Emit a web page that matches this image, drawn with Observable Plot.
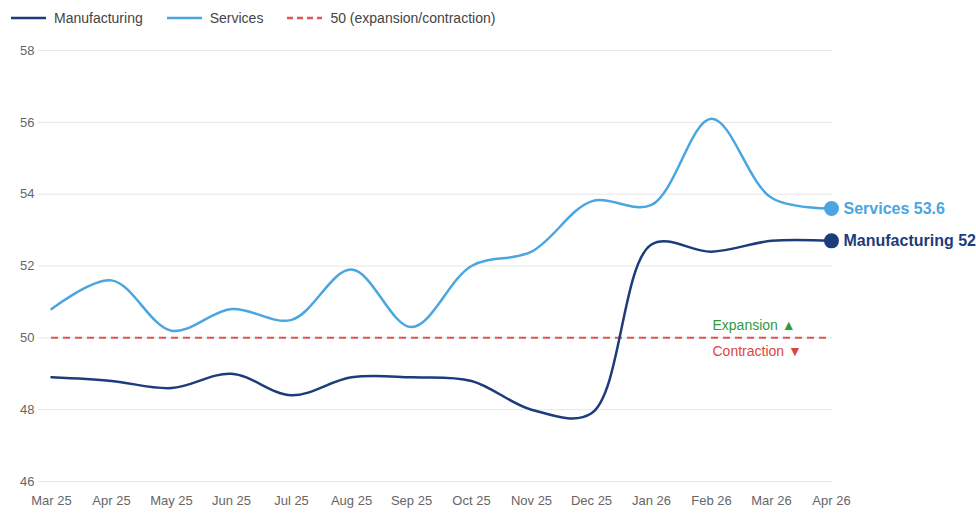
<!DOCTYPE html>
<html>
<head>
<meta charset="utf-8">
<script src="https://cdn.jsdelivr.net/npm/d3@7"></script>
<script src="https://cdn.jsdelivr.net/npm/@observablehq/plot@0.6"></script>
<style>
  html, body { margin: 0; padding: 0; background: #fff; overflow: hidden; }
  body { font-family: "Liberation Sans", Arial, sans-serif; width: 976px; height: 517px; }
  #legend { display: flex; align-items: center; height: 35px; padding-left: 11px; font-size: 14px; color: #444; }
  .item { display: flex; align-items: center; margin-right: 24px; }
  .item svg { margin-right: 8px; }
</style>
</head>
<body>
<div id="legend"></div>
<div id="chart"></div>
<script>
const months = ["Mar 25","Apr 25","May 25","Jun 25","Jul 25","Aug 25","Sep 25","Oct 25","Nov 25","Dec 25","Jan 26","Feb 26","Mar 26","Apr 26"];
const manufacturing = [48.9, 48.8, 48.6, 49.0, 48.4, 48.9, 48.9, 48.8, 48.0, 47.9, 52.6, 52.4, 52.7, 52.7];
const services = [50.8, 51.6, 50.2, 50.8, 50.5, 51.9, 50.3, 52.0, 52.4, 53.8, 53.7, 56.1, 53.9, 53.6];
const yTicks = [46, 48, 50, 52, 54, 56, 58];
const threshold = 50;
const zoneLabels = ["Expansion ▲", "Contraction ▼"];
const seriesNames = ["Manufacturing", "Services"];
const colors = { Manufacturing: "#1d3c7c", Services: "#4aa5e0" };
const refColor = "#e05555";
const legendLabels = ["Manufacturing", "Services", "50 (expansion/contraction)"];

// legend
const legend = document.getElementById("legend");
const legendStyles = [
  { stroke: colors.Manufacturing, dash: null },
  { stroke: colors.Services, dash: null },
  { stroke: refColor, dash: "6,4" }
];
legendLabels.forEach((lab, i) => {
  const it = document.createElement("div");
  it.className = "item";
  const s = legendStyles[i];
  it.innerHTML = `<svg width="35" height="6"><line x1="0" x2="35" y1="3" y2="3" stroke="${s.stroke}" stroke-width="2.5" ${s.dash ? `stroke-dasharray="${s.dash}"` : ""}/></svg><span>${lab}</span>`;
  legend.appendChild(it);
});

const data = [];
months.forEach((m, i) => {
  data.push({ month: m, series: "Manufacturing", value: manufacturing[i] });
  data.push({ month: m, series: "Services", value: services[i] });
});
const last = months.length - 1;
const endPoints = [
  { month: months[last], series: "Services", value: services[last] },
  { month: months[last], series: "Manufacturing", value: manufacturing[last] }
];

const chart = Plot.plot({
  width: 976,
  height: 482,
  marginTop: 15,
  marginBottom: 36,
  marginLeft: 38,
  marginRight: 144,
  style: { fontFamily: "'Liberation Sans', Arial, sans-serif", fontSize: "13px", color: "#666" },
  x: { type: "point", domain: months, padding: 0, insetLeft: 12, label: null },
  y: { domain: [46, 58], ticks: yTicks, label: null },
  color: { domain: seriesNames, range: seriesNames.map(s => colors[s]) },
  marks: [
    Plot.gridY(yTicks, { stroke: "#e6e6e6", strokeOpacity: 1, strokeWidth: 1 }),
    Plot.axisY(yTicks, { tickSize: 0, tickPadding: 4, fill: "#666", fontSize: 13, label: null }),
    Plot.axisX(months, { tickSize: 0, tickPadding: 14, fill: "#666", fontSize: 13, label: null }),
    Plot.ruleY([threshold], { y: d => d, x1: () => months[0], x2: () => months[last], stroke: refColor, strokeWidth: 2, strokeDasharray: "7,5" }),
    Plot.text([zoneLabels[0]], { x: () => months[11], y: () => threshold, text: d => d, textAnchor: "start", dx: 1, dy: -12, fill: "#2f9a3c", fontSize: 14 }),
    Plot.text([zoneLabels[1]], { x: () => months[11], y: () => threshold, text: d => d, textAnchor: "start", dx: 1, dy: 14, fill: "#d94545", fontSize: 14 }),
    Plot.line(data, { x: "month", y: "value", z: "series", stroke: "series", strokeWidth: 2.5, curve: "catmull-rom" }),
    Plot.dot(endPoints, { x: "month", y: "value", fill: "series", r: 7.5, stroke: "none" }),
    Plot.text(endPoints, { x: "month", y: "value", fill: "series", text: d => `${d.series} ${d.value.toFixed(1)}`, textAnchor: "start", dx: 12, fontSize: 16, fontWeight: "bold" })
  ]
});
document.getElementById("chart").appendChild(chart);
</script>
</body>
</html>
